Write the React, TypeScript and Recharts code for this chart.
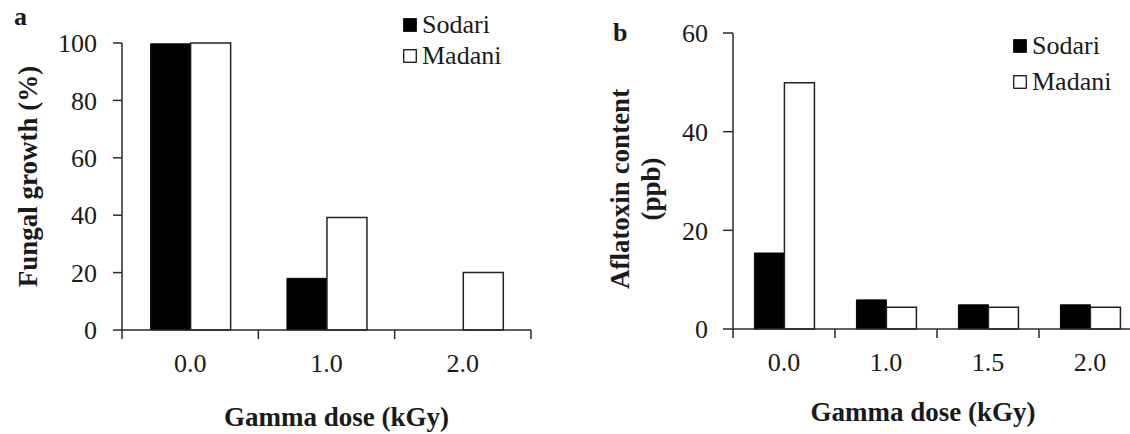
import React from "react";
import { BarChart, Bar, XAxis, YAxis, Legend, Label } from "recharts";

// panel a: fungal growth (%)
const dosesA = ["0.0", "1.0", "2.0"];
const sodariGrowth = [99.7, 18, 0];
const madaniGrowth = [100, 39.2, 20];
const growthTicks = [0, 20, 40, 60, 80, 100];

// panel b: aflatoxin content (ppb)
const dosesB = ["0.0", "1.0", "1.5", "2.0"];
const sodariAflatoxin = [15.4, 5.9, 4.9, 4.9];
const madaniAflatoxin = [49.9, 4.4, 4.4, 4.4];
const aflatoxinTicks = [0, 20, 40, 60];

const seriesNames = ["Sodari", "Madani"];
const seriesFills = ["#000000", "#ffffff"];

const dataA = dosesA.map((dose, i) => ({
  dose,
  sodari: sodariGrowth[i],
  madani: madaniGrowth[i],
}));
const dataB = dosesB.map((dose, i) => ({
  dose,
  sodari: sodariAflatoxin[i],
  madani: madaniAflatoxin[i],
}));

const SERIF = '"Liberation Serif", "Times New Roman", serif';
const AXIS = "#2a2a2a";
const TEXT = "#1a1a1a";

// category ticks sit on the band edges, labels in the middle
const DoseTick = (props: any) => {
  const { x, y, payload, index, visibleTicksCount } = props;
  const half = payload && payload.offset ? payload.offset : 0;
  return (
    <g>
      <line x1={x - half} x2={x - half} y1={y} y2={y + 9} stroke={AXIS} strokeWidth={1.5} />
      {index === visibleTicksCount - 1 && (
        <line x1={x + half} x2={x + half} y1={y} y2={y + 9} stroke={AXIS} strokeWidth={1.5} />
      )}
      <text x={x} y={y + 42} textAnchor="middle" fill={TEXT} fontSize={26} fontFamily={SERIF}>
        {payload.value}
      </text>
    </g>
  );
};

const xTitle = (dx: number, dy: number) => (props: any) => {
  const { x, y, width } = props.viewBox;
  return (
    <text
      x={x + width / 2 + dx}
      y={y + dy}
      textAnchor="middle"
      fill={TEXT}
      fontSize={27}
      fontWeight="bold"
      fontFamily={SERIF}
    >
      Gamma dose (kGy)
    </text>
  );
};

const yTitle = (lines: { text: string; dx: number }[], dy: number) => (props: any) => {
  const { x, y, height } = props.viewBox;
  const cy = y + height / 2 + dy;
  return (
    <g>
      {lines.map((l) => (
        <text
          key={l.text}
          x={x + l.dx}
          y={cy}
          transform={`rotate(-90, ${x + l.dx}, ${cy})`}
          textAnchor="middle"
          dominantBaseline="central"
          fill={TEXT}
          fontSize={27}
          fontWeight="bold"
          fontFamily={SERIF}
        >
          {l.text}
        </text>
      ))}
    </g>
  );
};

// legend drawn in series order (recharts sorts by name otherwise)
const LegendBox = ({ rowHeight }: any) => (
  <div>
    {seriesNames.map((name, i) => (
      <div key={name} style={{ display: "flex", alignItems: "center", height: rowHeight }}>
        <svg width={14} height={14}>
          <rect x={0.75} y={0.75} width={12.5} height={12.5} fill={seriesFills[i]} stroke="#000" strokeWidth={1.2} />
        </svg>
        <span style={{ marginLeft: 5, fontSize: 26, fontFamily: SERIF, color: TEXT, lineHeight: 1 }}>
          {name}
        </span>
      </div>
    ))}
  </div>
);

const yAxisProps = {
  tickSize: 9,
  tickMargin: 16,
  width: 60,
  axisLine: { stroke: AXIS, strokeWidth: 1.5 },
  tickLine: { stroke: AXIS, strokeWidth: 1.5 },
  tick: { fill: TEXT, fontSize: 26, fontFamily: SERIF },
  interval: 0 as const,
};

const xAxisProps = {
  dataKey: "dose",
  tickSize: 0,
  tickMargin: 0,
  height: 30,
  tickLine: false,
  axisLine: { stroke: AXIS, strokeWidth: 1.5 },
  tick: <DoseTick />,
  interval: 0 as const,
};

const panelLetter = (left: number, top: number): React.CSSProperties => ({
  position: "absolute",
  left,
  top,
  fontFamily: SERIF,
  fontWeight: "bold",
  fontSize: 26,
  lineHeight: 1,
  color: TEXT,
});

export default function App() {
  return (
    <div
      style={{
        position: "fixed",
        left: 0,
        top: 0,
        width: 1130,
        height: 434,
        overflow: "hidden",
        background: "#fff",
      }}
    >
      <div style={{ position: "absolute", left: 0, top: 0 }}>
        <BarChart
          width={560}
          height={434}
          data={dataA}
          margin={{ top: 43, right: 29, bottom: 74, left: 62 }}
          barCategoryGap="21%"
          barGap={0}
        >
          <XAxis {...xAxisProps}>
            <Label content={xTitle(10, 96)} />
          </XAxis>
          <YAxis {...yAxisProps} domain={[0, 100]} ticks={growthTicks}>
            <Label content={yTitle([{ text: "Fungal growth (%)", dx: -34 }], -10)} />
          </YAxis>
          <Legend
            layout="vertical"
            align="center"
            verticalAlign="middle"
            content={<LegendBox rowHeight={31} />}
            wrapperStyle={{ left: 403, top: 9, width: "auto", height: "auto" }}
          />
          <Bar dataKey="sodari" name={seriesNames[0]} fill={seriesFills[0]} stroke="#000" strokeWidth={1} isAnimationActive={false} />
          <Bar dataKey="madani" name={seriesNames[1]} fill={seriesFills[1]} stroke="#222" strokeWidth={1.5} isAnimationActive={false} />
        </BarChart>
        <div style={panelLetter(14, 4)}>a</div>
      </div>

      <div style={{ position: "absolute", left: 560, top: 0 }}>
        <BarChart
          width={600}
          height={434}
          data={dataB}
          margin={{ top: 33, right: 19, bottom: 75, left: 113 }}
          barCategoryGap="21%"
          barGap={0}
        >
          <XAxis {...xAxisProps}>
            <Label content={xTitle(-14, 92)} />
          </XAxis>
          <YAxis {...yAxisProps} domain={[0, 60]} ticks={aflatoxinTicks} tickSize={10} tickMargin={15}>
            <Label
              content={yTitle(
                [
                  { text: "Aflatoxin content", dx: -53 },
                  { text: "(ppb)", dx: -22 },
                ],
                8
              )}
            />
          </YAxis>
          <Legend
            layout="vertical"
            align="center"
            verticalAlign="middle"
            content={<LegendBox rowHeight={36} />}
            wrapperStyle={{ left: 453, top: 28, width: "auto", height: "auto" }}
          />
          <Bar dataKey="sodari" name={seriesNames[0]} fill={seriesFills[0]} stroke="#000" strokeWidth={1} isAnimationActive={false} />
          <Bar dataKey="madani" name={seriesNames[1]} fill={seriesFills[1]} stroke="#222" strokeWidth={1.5} isAnimationActive={false} />
        </BarChart>
        <div style={panelLetter(53, 20)}>b</div>
      </div>
    </div>
  );
}
